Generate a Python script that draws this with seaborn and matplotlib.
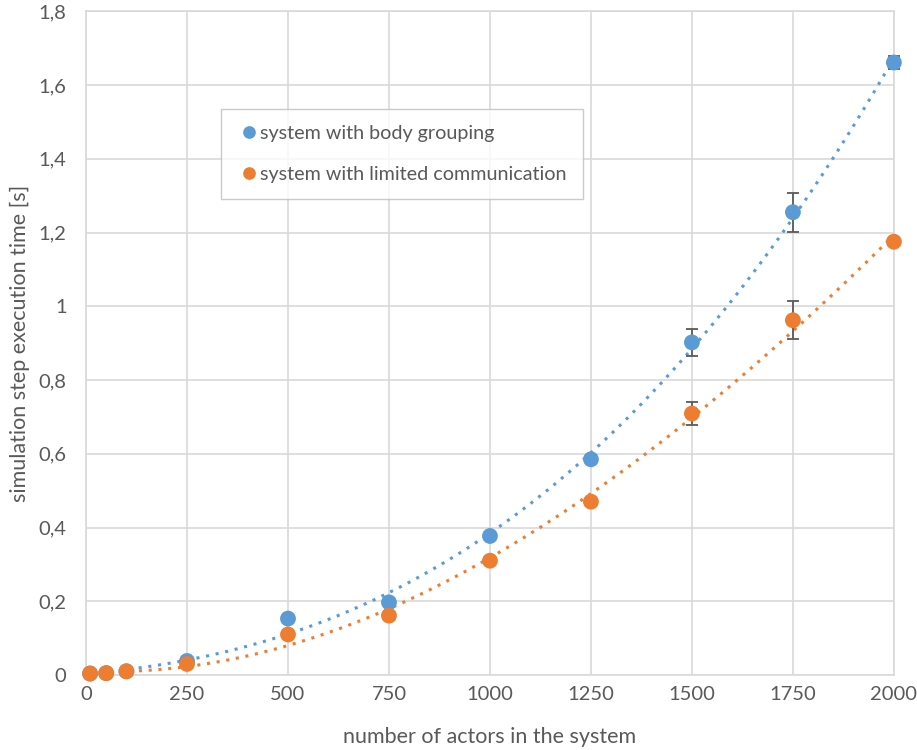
import numpy as np
import pandas as pd

import matplotlib
matplotlib.use("Agg")
import matplotlib.pyplot as plt
import seaborn as sns

# Data
actors = [10, 50, 100, 250, 500, 750, 1000, 1250, 1500, 1750, 2000]
body_grouping = [0.004, 0.005, 0.010, 0.038, 0.153, 0.197, 0.377, 0.585, 0.902, 1.255, 1.661]
body_grouping_err = [0.002, 0.002, 0.002, 0.004, 0.006, 0.006, 0.008, 0.010, 0.036, 0.053, 0.018]
limited_comm = [0.004, 0.005, 0.010, 0.030, 0.110, 0.161, 0.310, 0.470, 0.709, 0.962, 1.175]
limited_comm_err = [0.002, 0.002, 0.002, 0.003, 0.005, 0.005, 0.007, 0.008, 0.032, 0.052, 0.010]

series_names = ["system with body grouping", "system with limited communication"]
y_ticks = [0, 0.2, 0.4, 0.6, 0.8, 1.0, 1.2, 1.4, 1.6, 1.8]
y_tick_labels = ["0", "0,2", "0,4", "0,6", "0,8", "1", "1,2", "1,4", "1,6", "1,8"]
x_ticks = [0, 250, 500, 750, 1000, 1250, 1500, 1750, 2000]

colors = {series_names[0]: "#5B9BD5", series_names[1]: "#ED7D31"}
text_color = "#595959"

sns.set_theme(style="white")
plt.rcParams["font.family"] = ["Lato", "DejaVu Sans"]

df = pd.DataFrame({
    "actors": actors * 2,
    "time": body_grouping + limited_comm,
    "err": body_grouping_err + limited_comm_err,
    "series": [series_names[0]] * len(actors) + [series_names[1]] * len(actors),
})

fig = plt.figure(figsize=(9.17, 7.5), dpi=100)
ax = fig.add_axes([0.0938, 0.1, 0.881, 0.885])

# 3rd order polynomial trendlines (like the spreadsheet's)
xs = np.linspace(actors[0], actors[-1], 200)
for name, vals in zip(series_names, [body_grouping, limited_comm]):
    coef = np.polyfit(actors, vals, 3)
    trend = pd.DataFrame({"actors": xs, "time": np.polyval(coef, xs)})
    sns.lineplot(data=trend, x="actors", y="time", ax=ax, color=colors[name],
                 linestyle=(0, (1, 2.2)), linewidth=2.2, legend=False, zorder=2)

# error bars
for name in series_names:
    sub = df[df["series"] == name]
    eb = ax.errorbar(sub["actors"], sub["time"], yerr=sub["err"], fmt="none",
                     ecolor="#595959", elinewidth=1.3, capsize=4.5, capthick=1.3, zorder=3)
    for art in eb.get_children():
        art.set_clip_on(False)

sns.scatterplot(data=df, x="actors", y="time", hue="series", palette=colors,
                s=130, edgecolor="none", ax=ax, zorder=4, clip_on=False)

ax.set_xlim(0, 2000)
ax.set_ylim(0, 1.8)
ax.set_xticks(x_ticks)
ax.set_yticks(y_ticks)
ax.set_yticklabels(y_tick_labels)
ax.grid(True, color="#d9d9d9", linewidth=1.2)
ax.set_axisbelow(True)
for sp in ax.spines.values():
    sp.set_color("#d9d9d9")
    sp.set_linewidth(1.2)
ax.tick_params(axis="both", colors=text_color, labelsize=14.5, length=0)
ax.tick_params(axis="x", pad=8)
ax.tick_params(axis="y", pad=14)
ax.set_xlabel("number of actors in the system", fontsize=15.5, color=text_color, labelpad=17)
ax.set_ylabel("simulation step execution time [s]", fontsize=15.5, color=text_color, labelpad=6)

leg = ax.legend(loc="upper left", bbox_to_anchor=(0.167, 0.852), frameon=True,
                fontsize=14.2, handletextpad=0.0, handlelength=1.2, borderpad=0.8,
                labelspacing=1.2, markerscale=0.8, fancybox=False, title=None,
                borderaxespad=0)
leg.get_frame().set_edgecolor("#bfbfbf")
leg.get_frame().set_linewidth(1.0)
for t in leg.get_texts():
    t.set_color(text_color)

fig.savefig("out.png", dpi=100)
plt.close(fig)
